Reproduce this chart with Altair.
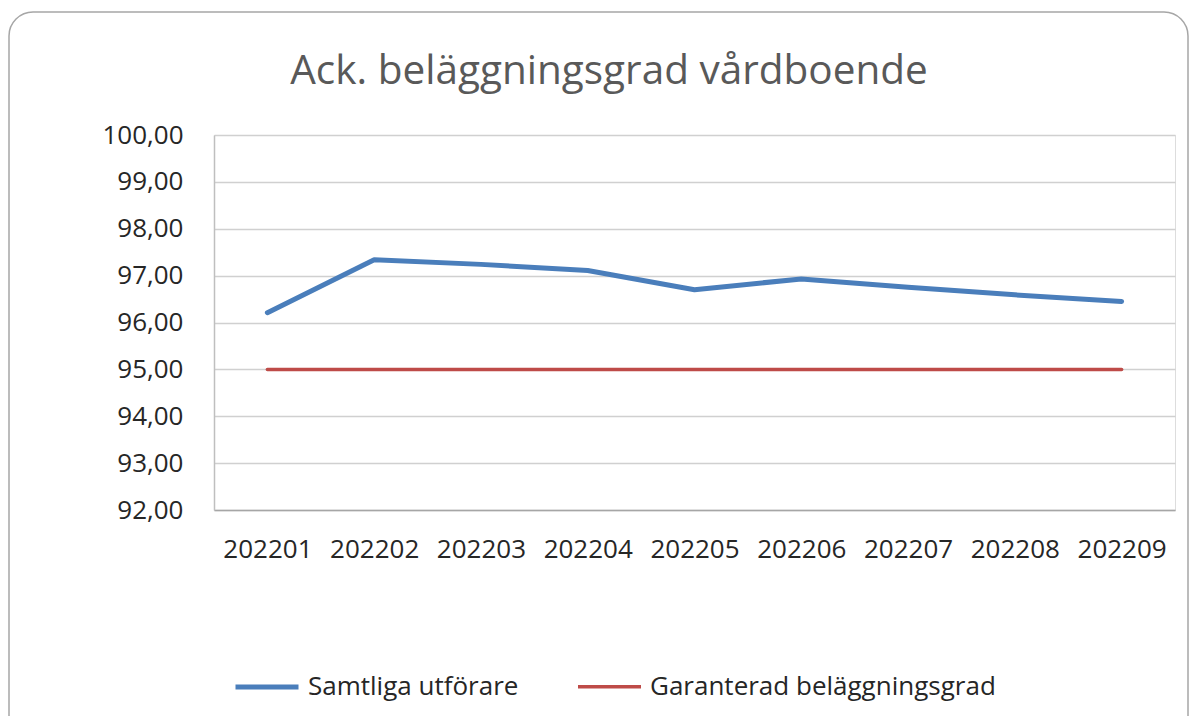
import altair as alt
import pandas as pd

months = ["202201", "202202", "202203", "202204", "202205",
          "202206", "202207", "202208", "202209"]
samtliga = [96.21, 97.34, 97.24, 97.11, 96.70, 96.93, 96.75, 96.59, 96.45]
garanterad = [95.00, 95.00, 95.00, 95.00, 95.00, 95.00, 95.00, 95.00, 95.00]
series_names = ["Samtliga utförare", "Garanterad beläggningsgrad"]
series_colors = ["#4a7ebb", "#be4b48"]
y_ticks = [92, 93, 94, 95, 96, 97, 98, 99, 100]
title_text = "Ack. beläggningsgrad vårdboende"

rows = []
for m, v in zip(months, samtliga):
    rows.append({"month": m, "value": v, "series": series_names[0]})
for m, v in zip(months, garanterad):
    rows.append({"month": m, "value": v, "series": series_names[1]})
df = pd.DataFrame(rows)

FONT = "Open Sans"

lines = alt.Chart(df).mark_line(strokeCap="round", strokeJoin="round").encode(
    x=alt.X("month:N", sort=months,
            axis=alt.Axis(title=None, labelAngle=0, ticks=False, grid=False,
                          domainColor="#a6a6a6", domainWidth=1.5,
                          labelFontSize=26, labelFont=FONT, labelColor="#262626",
                          labelPadding=26)),
    y=alt.Y("value:Q",
            scale=alt.Scale(domain=[92, 100], nice=False, zero=False),
            axis=alt.Axis(title=None, values=y_ticks, ticks=False,
                          labelExpr="replace(format(datum.value, '.2f'), '.', ',')",
                          domainColor="#bfbfbf", domainWidth=1.5,
                          gridColor="#d0d0d0", gridWidth=1.5,
                          labelFontSize=26, labelFont=FONT, labelColor="#262626",
                          labelPadding=31)),
    color=alt.Color("series:N", sort=series_names,
                    scale=alt.Scale(domain=series_names, range=series_colors),
                    legend=alt.Legend(title=None, orient="none", direction="horizontal",
                                      legendX=19, legendY=518,
                                      symbolType="stroke", symbolSize=3969,
                                      symbolStrokeWidth=5, labelOffset=7,
                                      labelFontSize=26, labelFont=FONT,
                                      labelColor="#262626", columnPadding=52,
                                      labelLimit=600)),
    strokeWidth=alt.StrokeWidth("series:N", sort=series_names,
                                scale=alt.Scale(domain=series_names, range=[5, 3.5]),
                                legend=None),
)

deco = alt.Chart(pd.DataFrame({"title": [title_text]}))

frame = deco.mark_rect(
    fill="transparent", stroke="#a6a6a6", strokeWidth=1.5, cornerRadius=24
).encode(
    x=alt.value(-205), x2=alt.value(974), y=alt.value(-123), y2=alt.value(620)
)

title = deco.mark_text(
    fontSize=40.5, font=FONT, color="#595959", align="center", baseline="alphabetic"
).encode(
    text="title:N", x=alt.value(395), y=alt.value(-51)
)

chart = alt.layer(frame, title, lines).properties(
    width=961, height=375,
    padding={"left": 206, "top": 127, "right": 15, "bottom": 206},
    autosize=alt.AutoSizeParams(type="none"),
).configure_view(stroke=None).configure(background="white")

chart.save("out.html", embed_options={"renderer": "svg", "actions": False})
